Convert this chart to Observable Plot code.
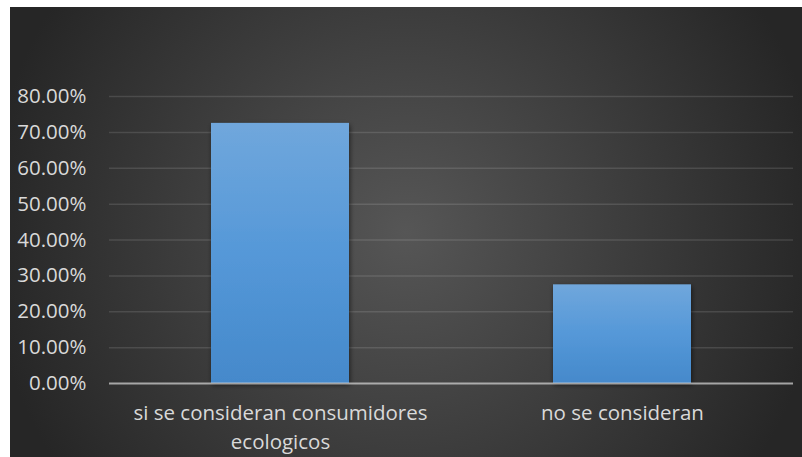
<!DOCTYPE html>
<html>
<head>
<meta charset="utf-8">
<script src="https://cdn.jsdelivr.net/npm/d3@7"></script>
<script src="https://cdn.jsdelivr.net/npm/@observablehq/plot@0.6"></script>
<style>
  html, body { margin: 0; padding: 0; background: #ffffff; }
  #chart { width: 802px; height: 457px; }
</style>
</head>
<body>
<div id="chart"></div>
<script>
const categories = ["si se consideran consumidores ecologicos", "no se consideran"];
const tickLabels = ["si se consideran consumidores\necologicos", "no se consideran"];
const values = [72.5, 27.5];
const yTicks = [0, 10, 20, 30, 40, 50, 60, 70, 80];

const data = categories.map((c, i) => ({category: c, value: values[i]}));

const plot = Plot.plot({
  width: 802,
  height: 457,
  marginLeft: 109,
  marginRight: 9,
  marginTop: 96,
  marginBottom: 74,
  style: {background: "transparent", fontFamily: "'Open Sans', sans-serif", fontSize: "20.5px", color: "#d9d9d9"},
  x: {domain: categories, paddingInner: 0.5965, paddingOuter: 0.298, label: null},
  y: {domain: [0, 80], label: null},
  marks: [
    Plot.ruleY(yTicks.filter(d => d > 0), {stroke: "#ffffff", strokeOpacity: 0.12, strokeWidth: 1.5}),
    Plot.barY(data, {x: "category", y: "value", fill: "url(#barGrad)"}),
    Plot.ruleY([0], {stroke: "#d9d9d9", strokeOpacity: 0.7, strokeWidth: 2}),
    Plot.axisY({ticks: yTicks, tickFormat: d => d.toFixed(2) + "%", tickSize: 0, tickPadding: 23, label: null, fontSize: 20.5, fill: "#d9d9d9"}),
    Plot.axisX({tickFormat: (d) => tickLabels[categories.indexOf(d)], tickSize: 0, tickPadding: 17, label: null, fontSize: 20.5, lineHeight: 1.37, fill: "#d9d9d9"})
  ]
});

const svg = d3.select(plot);
const defs = svg.insert("defs", ":first-child");
const rg = defs.append("radialGradient").attr("id", "bgGrad")
  .attr("gradientUnits", "userSpaceOnUse")
  .attr("cx", 406).attr("cy", 232).attr("r", 420);
rg.append("stop").attr("offset", "0%").attr("stop-color", "#565656");
rg.append("stop").attr("offset", "100%").attr("stop-color", "#262626");
const lg = defs.append("linearGradient").attr("id", "barGrad")
  .attr("x1", 0).attr("y1", 0).attr("x2", 0).attr("y2", 1);
lg.append("stop").attr("offset", "0%").attr("stop-color", "#70a7dc");
lg.append("stop").attr("offset", "50%").attr("stop-color", "#5598d8");
lg.append("stop").attr("offset", "100%").attr("stop-color", "#4589cb");
const f = defs.append("filter").attr("id", "shadow").attr("x", "-10%").attr("y", "-10%").attr("width", "130%").attr("height", "130%");
f.append("feDropShadow").attr("dx", 1).attr("dy", 2).attr("stdDeviation", 2.5).attr("flood-color", "#000").attr("flood-opacity", 0.55);
svg.insert("rect", "defs + *")
  .attr("x", 10).attr("y", 7).attr("width", 792).attr("height", 450)
  .attr("fill", "url(#bgGrad)");
svg.selectAll("g[aria-label='bar'] rect").attr("filter", "url(#shadow)");

document.getElementById("chart").appendChild(plot);
</script>
</body>
</html>
